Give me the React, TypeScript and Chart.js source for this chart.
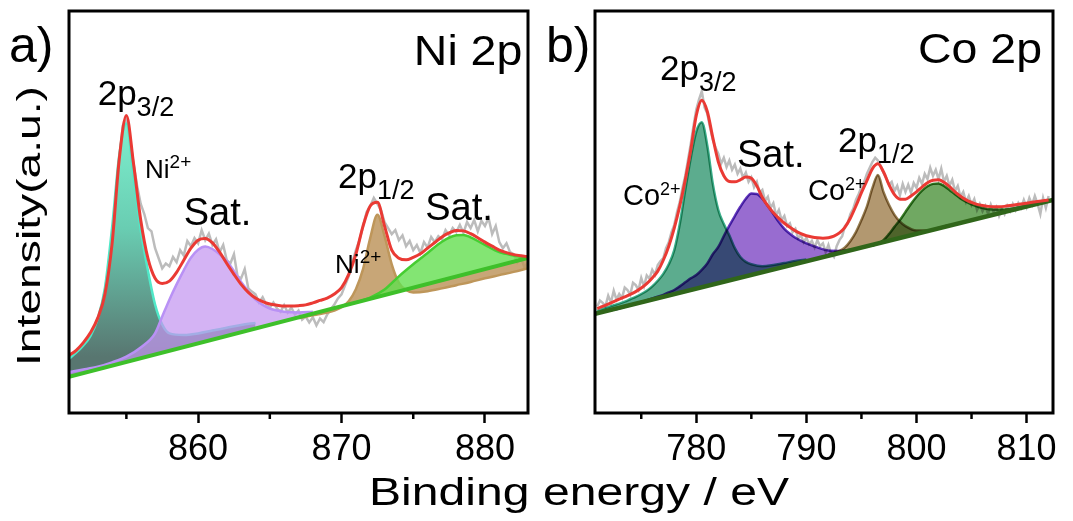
import React, { useEffect, useRef } from 'react';
import { Chart, registerables } from 'chart.js';

Chart.register(...registerables);

const W = 1073;
const H = 521;
const FONT = '"Liberation Sans", Arial, Helvetica, sans-serif';

// ---------------- Panel a: Ni 2p ----------------
const NI_RANGE = [851, 883];
const NI_MAJOR_TICKS = [860, 870, 880];
const NI_MINOR_TICKS = [855, 865, 875];

// measured spectrum (0.25 eV steps from 851 eV)
const NI_RAW_START = 851;
const NI_RAW = [
  13.5, 12.0, 14.8, 13.6, 16.5, 15.2, 18.8, 20.5,
  22.0, 26.0, 30.5, 36.0, 43.0, 53.0, 63.0, 71.5,
  73.0, 68.0, 62.0, 56.5, 52.0, 49.5, 46.0, 45.2,
  41.0, 38.5, 36.0, 37.2, 36.5, 38.8, 37.5, 40.5,
  39.2, 42.8, 41.5, 43.5, 42.2, 45.5, 43.0, 44.6,
  41.8, 43.2, 40.0, 41.8, 38.0, 37.2, 39.5, 34.0,
  33.5, 35.8, 31.0, 30.2, 29.5, 27.5, 28.8, 27.0,
  26.2, 27.5, 26.0, 25.2, 26.8, 25.0, 26.2, 24.5,
  25.5, 23.2, 24.0, 22.5, 23.8, 21.8, 23.5, 22.6,
  24.5, 25.8, 27.0, 28.5, 29.5, 31.8, 34.0, 37.5,
  40.5, 43.0, 46.5, 50.0, 51.5, 53.5, 52.0, 50.5,
  47.5, 46.0, 44.5, 45.5, 43.0, 44.2, 41.5, 42.8,
  40.5, 41.8, 39.8, 42.5, 41.2, 43.8, 42.5, 44.0,
  43.2, 45.5, 44.2, 46.0, 45.0, 46.8, 44.8, 47.5,
  46.0, 48.0, 45.2, 47.8, 46.5, 48.5, 44.5, 46.5,
  42.5, 41.0, 42.2, 40.0, 39.5, 37.5, 38.8, 36.2,
  37.5,
];

// fitted envelope (0.5 eV steps from 851 eV)
const NI_ENV_START = 851;
const NI_ENV = [
  14.3, 15.6, 17.5, 20.0, 23.6, 29.5, 42.0, 63.0, 74.0, 62.0,
  48.0, 38.5, 33.5, 32.2, 32.8, 35.0, 38.0, 41.0, 43.0, 43.4,
  42.3, 40.0, 37.2, 34.5, 32.0, 30.0, 28.6, 27.7, 27.1, 26.8,
  26.6, 26.6, 26.7, 26.9, 27.4, 28.0, 28.6, 29.6, 31.2, 34.5,
  39.5, 46.5, 51.5, 52.4, 46.5, 40.5, 38.5, 38.1, 38.7, 39.6,
  41.0, 42.4, 43.8, 44.8, 45.4, 45.3, 44.6, 43.6, 42.5, 41.5,
  40.5, 39.9, 39.4, 39.1, 38.9,
];

const NI_BASE_E = [851, 883];
const NI_BASE = [9.0, 38.6];

const NI_P32_E = [851, 851.5, 852, 852.5, 853, 853.5, 854, 854.5, 855, 855.5, 856, 856.5, 857, 857.5, 858, 859, 860, 861, 862, 863, 864];
const NI_P32 = [13.5, 15.0, 16.8, 19.2, 23.5, 31.0, 46.0, 64.0, 72.0, 59.0, 45.5, 35.5, 27.0, 22.0, 19.8, 19.4, 19.8, 20.5, 21.2, 21.9, 22.4];

const NI_SAT1_E = [851, 852, 853, 854, 855, 856, 857, 857.5, 858, 858.5, 859, 859.5, 860, 860.5, 861, 861.5, 862, 862.5, 863, 863.5, 864, 864.5, 865, 866, 867, 868];
const NI_SAT1 = [10.2, 10.8, 11.5, 12.6, 14.0, 16.3, 19.8, 24.0, 28.2, 32.0, 35.5, 38.6, 40.6, 41.4, 40.8, 39.5, 37.8, 35.3, 32.6, 30.3, 28.2, 26.9, 26.0, 25.2, 25.0, 25.2];

const NI_P12_E = [867, 868, 868.5, 869, 869.5, 870, 870.5, 871, 871.5, 872, 872.5, 873, 873.5, 874, 874.5, 875, 876, 877, 878, 879, 880, 881, 882, 883];
const NI_P12 = [23.6, 24.3, 24.6, 25.0, 25.5, 26.3, 27.8, 30.8, 35.8, 43.5, 49.3, 44.0, 37.0, 32.4, 30.6, 30.0, 30.3, 31.0, 31.8, 32.6, 33.5, 34.3, 35.1, 36.0];

const NI_SAT2_E = [871, 872, 873, 874, 875, 876, 877, 878, 878.5, 879, 880, 881, 882, 883];
const NI_SAT2 = [27.5, 28.7, 30.7, 34.0, 37.0, 39.8, 42.6, 44.2, 44.3, 43.7, 41.8, 40.0, 39.2, 38.7];

// ---------------- Panel b: Co 2p ----------------
const CO_RANGE = [770.8, 812.4];
const CO_MAJOR_TICKS = [780, 790, 800, 810];
const CO_MINOR_TICKS = [775, 785, 795, 805];

// measured spectrum (0.25 eV steps from 771 eV)
const CO_RAW_START = 771;
const CO_RAW = [
  26.5, 28.0, 27.4, 26.6, 29.2, 27.5, 30.4, 28.2,
  29.6, 28.6, 31.2, 30.6, 29.4, 32.4, 31.8, 30.6,
  33.6, 31.5, 34.2, 33.4, 35.6, 34.4, 36.8, 37.8,
  38.5, 41.0, 42.5, 45.0, 46.8, 50.0, 52.5, 56.0,
  59.0, 63.0, 67.0, 71.5, 75.5, 78.0, 80.0, 76.0,
  74.5, 71.0, 68.0, 66.0, 64.5, 62.0, 63.5, 61.2,
  62.8, 60.5, 61.8, 59.5, 60.8, 58.5, 59.8, 57.5,
  58.6, 56.2, 57.5, 54.8, 55.5, 52.8, 53.8, 51.0,
  52.2, 49.2, 50.5, 48.0, 49.0, 46.5, 47.2, 45.0,
  45.8, 43.5, 44.2, 42.5, 43.6, 42.0, 42.8, 41.2,
  43.0, 41.5, 42.2, 40.0, 41.8, 39.5, 38.8, 41.5,
  43.0, 44.0, 46.5, 47.2, 49.5, 50.8, 53.0, 54.5,
  56.2, 57.5, 59.5, 61.0, 62.5, 63.5, 62.8, 61.5,
  59.8, 58.5, 56.8, 57.5, 55.2, 56.5, 54.2, 57.0,
  55.0, 56.8, 54.8, 57.2, 56.0, 58.5, 57.0, 59.5,
  58.2, 61.0, 59.0, 60.5, 58.2, 60.8, 57.5, 59.0,
  56.5, 58.0, 55.2, 56.5, 53.8, 55.0, 52.5, 54.0,
  51.8, 53.2, 50.5, 52.0, 50.2, 51.5, 49.5, 51.8,
  50.0, 51.2, 49.0, 50.8, 49.5, 51.5, 50.2, 52.0,
  50.5, 52.2, 51.0, 53.0, 51.2, 53.5, 51.8, 54.0,
  52.0, 49.5, 53.5, 51.0, 54.0,
];

// fitted envelope (0.5 eV steps from 771 eV)
const CO_ENV_START = 771;
const CO_ENV = [
  26.0, 26.5, 27.1, 27.7, 28.3, 28.9, 29.5, 30.2, 31.1, 32.2,
  33.6, 35.3, 38.0, 41.5, 46.0, 51.5, 58.0, 65.5, 74.0, 77.8,
  75.0, 68.5, 62.5, 59.0, 57.6, 57.5, 58.0, 58.7, 58.4, 56.5,
  53.6, 51.5, 49.8, 48.4, 47.2, 46.2, 45.3, 44.6, 44.1, 43.8,
  43.6, 43.5, 43.6, 44.0, 44.8, 46.2, 48.5, 51.5, 54.8, 57.8,
  60.8, 62.0, 60.0, 56.8, 54.3, 53.2, 53.2, 54.0, 55.0, 56.2,
  57.3, 57.9, 58.0, 57.4, 56.3, 55.0, 53.9, 53.0, 52.4, 51.9,
  51.6, 51.4, 51.3, 51.3, 51.4, 51.6, 51.8, 52.0, 52.2, 52.4,
  52.6, 52.8, 53.0,
];

const CO_BASE_E = [770.8, 812.4];
const CO_BASE = [24.7, 53.0];

const CO_P32_E = [771, 771.5, 772, 772.5, 773, 773.5, 774, 774.5, 775, 775.5, 776, 776.5, 777, 777.5, 778, 778.5, 779, 779.5, 780, 780.5, 781, 781.5, 782, 782.5, 783, 783.5, 784, 784.5, 785, 786, 787, 788, 789, 790];
const CO_P32 = [25.4, 25.9, 26.3, 26.8, 27.2, 27.7, 28.3, 28.9, 29.6, 30.4, 31.5, 32.9, 34.6, 37.0, 40.5, 47.0, 55.5, 63.5, 70.0, 72.3, 66.5, 57.0, 50.5, 47.0, 44.2, 41.0, 38.8, 37.6, 37.0, 36.5, 36.8, 37.3, 37.8, 38.2];

const CO_SAT1_E = [771, 772, 773, 774, 775, 776, 777, 777.5, 778, 778.5, 779, 779.5, 780, 780.5, 781, 781.5, 782, 782.5, 783, 783.5, 784, 784.5, 785, 785.5, 786, 786.5, 787, 787.5, 788, 788.5, 789, 790, 791, 792, 793, 794];
const CO_SAT1 = [24.8, 25.4, 26.0, 26.8, 27.6, 28.5, 29.4, 30.0, 30.6, 31.5, 32.5, 33.5, 34.3, 35.6, 37.2, 39.5, 41.3, 44.0, 46.6, 49.0, 51.3, 53.3, 54.6, 54.5, 53.3, 51.5, 49.5, 47.5, 45.8, 44.6, 43.6, 42.2, 41.2, 40.4, 40.3, 40.6];

const CO_P12_E = [792, 793, 793.5, 794, 794.5, 795, 795.5, 796, 796.5, 797, 797.5, 798, 798.5, 799, 800, 801, 802, 803];
const CO_P12 = [39.4, 40.3, 41.2, 42.8, 45.0, 48.0, 51.4, 56.0, 59.2, 55.0, 51.8, 49.3, 47.6, 46.5, 45.4, 45.4, 46.0, 46.8];

const CO_SAT2_E = [796, 797, 797.5, 798, 798.5, 799, 799.5, 800, 800.5, 801, 801.5, 802, 802.5, 803, 803.5, 804, 804.5, 805, 806, 807, 808, 809, 810, 811, 812];
const CO_SAT2 = [41.6, 43.0, 44.5, 46.3, 48.0, 50.0, 52.0, 53.8, 55.3, 56.4, 57.0, 57.1, 56.5, 55.5, 54.4, 53.4, 52.6, 51.9, 51.0, 50.6, 50.6, 51.0, 51.6, 52.2, 52.8];

// ---------------- helpers ----------------
const RAW_STEP = 0.25;
const ENV_STEP = 0.5;
const energyAxis = (start: number, step: number, n: number) =>
  Array.from({ length: n }, (_, i) => Math.round((start + i * step) * 100) / 100);
const pts = (xs: number[], ys: number[]) => ys.map((y, i) => ({ x: xs[i], y }));

type Part = { t: string; size: number; dy: number };
type Label = { parts: Part[]; x: number; y: number; align?: 'left' | 'right' | 'center'; sx?: number };

function drawParts(ctx: CanvasRenderingContext2D, parts: Part[], x: number, y: number, align: string = 'left', sx = 1) {
  ctx.save();
  ctx.fillStyle = '#000';
  ctx.textBaseline = 'alphabetic';
  ctx.textAlign = 'left';
  const widths = parts.map((p) => {
    ctx.font = `${p.size}px ${FONT}`;
    return ctx.measureText(p.t).width * sx;
  });
  const total = widths.reduce((a, b) => a + b, 0);
  let cx = align === 'right' ? x - total : align === 'center' ? x - total / 2 : x;
  parts.forEach((p, i) => {
    ctx.font = `${p.size}px ${FONT}`;
    ctx.save();
    ctx.translate(cx, y + p.dy);
    ctx.scale(sx, 1);
    ctx.fillText(p.t, 0, 0);
    ctx.restore();
    cx += widths[i];
  });
  ctx.restore();
}

function drawStretched(ctx: CanvasRenderingContext2D, text: string, size: number, cx: number, cy: number, length: number, rotate: boolean) {
  ctx.save();
  ctx.fillStyle = '#000';
  ctx.font = `${size}px ${FONT}`;
  ctx.textAlign = 'center';
  ctx.textBaseline = 'alphabetic';
  const w = ctx.measureText(text).width;
  ctx.translate(cx, cy);
  if (rotate) ctx.rotate(-Math.PI / 2);
  ctx.scale(length / w, 1);
  ctx.fillText(text, 0, 0);
  ctx.restore();
}

const SUB = 11;
const SUP = -10;

const NI_LABELS: Label[] = [
  { parts: [{ t: 'Ni 2p', size: 43, dy: 0 }], x: 882.6, y: 86.6, align: 'right', sx: 1.08 },
  { parts: [{ t: '2p', size: 35, dy: 0 }, { t: '3/2', size: 27, dy: SUB }], x: 853.0, y: 76.6 },
  { parts: [{ t: 'Ni', size: 26, dy: 0 }, { t: '2+', size: 19, dy: SUP }], x: 856.3, y: 58.5 },
  { parts: [{ t: 'Sat.', size: 38, dy: 0 }], x: 859.0, y: 46.8 },
  { parts: [{ t: '2p', size: 35, dy: 0 }, { t: '1/2', size: 27, dy: SUB }], x: 869.76, y: 56.0 },
  { parts: [{ t: 'Sat.', size: 38, dy: 0 }], x: 875.83, y: 48.0 },
  { parts: [{ t: 'Ni', size: 26, dy: 0 }, { t: '2+', size: 19, dy: SUP }], x: 869.55, y: 34.8 },
];

const CO_LABELS: Label[] = [
  { parts: [{ t: 'Co 2p', size: 43, dy: 0 }], x: 811.4, y: 87.1, align: 'right', sx: 1.08 },
  { parts: [{ t: '2p', size: 35, dy: 0 }, { t: '3/2', size: 27, dy: SUB }], x: 776.7, y: 82.8 },
  { parts: [{ t: 'Sat.', size: 38, dy: 0 }], x: 783.7, y: 61.2 },
  { parts: [{ t: '2p', size: 35, dy: 0 }, { t: '1/2', size: 27, dy: SUB }], x: 792.87, y: 64.9 },
  { parts: [{ t: 'Co', size: 29, dy: 0 }, { t: '2+', size: 18, dy: SUP }], x: 773.34, y: 51.7 },
  { parts: [{ t: 'Co', size: 29, dy: 0 }, { t: '2+', size: 18, dy: SUP }], x: 790.15, y: 53.0 },
];

const RED = 'rgb(234,58,52)';
const GRAY = 'rgb(188,188,188)';

const line = (data: any[], color: string, width: number, extra: any = {}) => ({
  data,
  borderColor: color,
  borderWidth: width,
  pointRadius: 0,
  fill: false,
  cubicInterpolationMode: 'monotone',
  ...extra,
});

function niDatasets() {
  const tealGrad = (c: any) => {
    const ch = c.chart;
    const ys = ch.scales && ch.scales.y;
    if (!ys || !ch.chartArea) return 'rgb(100,200,175)';
    const g = ch.ctx.createLinearGradient(0, ys.getPixelForValue(72), 0, ys.getPixelForValue(14));
    g.addColorStop(0, 'rgb(125,238,205)');
    g.addColorStop(0.45, 'rgb(105,205,178)');
    g.addColorStop(1, 'rgb(88,118,112)');
    return g;
  };
  return [
    line(pts(energyAxis(NI_ENV_START, ENV_STEP, NI_ENV.length), NI_ENV), RED, 3),
    line(pts(NI_BASE_E, NI_BASE), 'rgb(62,192,42)', 4, { cubicInterpolationMode: 'default', tension: 0 }),
    line(pts(NI_SAT2_E, NI_SAT2), 'rgb(70,205,50)', 2.5, { fill: 1, backgroundColor: 'rgba(100,222,80,0.8)' }),
    line(pts(NI_P12_E, NI_P12), 'rgb(190,150,90)', 2.5, { fill: 1, backgroundColor: 'rgba(190,150,95,0.85)' }),
    line(pts(NI_SAT1_E, NI_SAT1), 'rgb(185,145,245)', 2.5, { fill: 1, backgroundColor: 'rgba(195,150,240,0.72)' }),
    line(pts(NI_P32_E, NI_P32), 'rgb(80,232,200)', 2.5, { fill: 1, backgroundColor: tealGrad }),
    line(pts(energyAxis(NI_RAW_START, RAW_STEP, NI_RAW.length), NI_RAW), GRAY, 2.5, { cubicInterpolationMode: 'default', tension: 0 }),
  ];
}

function coDatasets() {
  return [
    line(pts(energyAxis(CO_ENV_START, ENV_STEP, CO_ENV.length), CO_ENV), RED, 3),
    line(pts(CO_BASE_E, CO_BASE), 'rgb(48,102,26)', 4.5, { cubicInterpolationMode: 'default', tension: 0 }),
    line(pts(CO_SAT2_E, CO_SAT2), 'rgb(60,130,40)', 2.5, { fill: 1, backgroundColor: 'rgb(112,168,98)' }),
    line(pts(CO_P12_E, CO_P12), 'rgb(150,125,80)', 2.5, { fill: 1, backgroundColor: 'rgb(178,152,112)' }),
    line(pts(CO_SAT1_E, CO_SAT1), 'rgb(100,55,190)', 2.5, { fill: 1, backgroundColor: 'rgb(152,108,208)' }),
    line(pts(CO_P32_E, CO_P32), 'rgb(60,175,140)', 2.5, { fill: 1, backgroundColor: 'rgb(92,172,142)' }),
    line(pts(energyAxis(CO_RAW_START, RAW_STEP, CO_RAW.length), CO_RAW), GRAY, 2.5, { cubicInterpolationMode: 'default', tension: 0 }),
  ];
}

type Panel = {
  range: number[];
  major: number[];
  minor: number[];
  padding: { left: number; right: number; top: number; bottom: number };
  datasets: () => any[];
  labels: Label[];
  global: boolean;
  blend: string;
};

const PANEL_A: Panel = {
  range: NI_RANGE,
  major: NI_MAJOR_TICKS,
  minor: NI_MINOR_TICKS,
  padding: { left: 69, right: W - 528, top: 11, bottom: 48 },
  datasets: niDatasets,
  labels: NI_LABELS,
  global: true,
  blend: 'source-over',
};

const PANEL_B: Panel = {
  range: CO_RANGE,
  major: CO_MAJOR_TICKS,
  minor: CO_MINOR_TICKS,
  padding: { left: 595, right: W - 1053, top: 11, bottom: 48 },
  datasets: coDatasets,
  labels: CO_LABELS,
  global: false,
  blend: 'multiply',
};

function makeChart(canvas: HTMLCanvasElement, p: Panel) {
  const deco = {
    id: 'deco' + (p.global ? 'A' : 'B'),
    beforeDatasetsDraw(chart: any) {
      chart.ctx.save();
      chart.ctx.globalCompositeOperation = p.blend;
    },
    beforeDatasetDraw(chart: any, args: any) {
      if (args.index <= 1) chart.ctx.globalCompositeOperation = 'source-over';
    },
    afterDatasetsDraw(chart: any) {
      chart.ctx.restore();
    },
    afterDraw(chart: any) {
      const { ctx, chartArea: a } = chart;
      const xs = chart.scales.x;
      const ys = chart.scales.y;
      ctx.save();
      ctx.strokeStyle = '#000';
      ctx.lineWidth = 3;
      ctx.strokeRect(a.left, a.top, a.right - a.left, a.bottom - a.top);
      ctx.lineWidth = 2.5;
      for (const v of p.minor) {
        const px = xs.getPixelForValue(v);
        ctx.beginPath();
        ctx.moveTo(px, a.bottom);
        ctx.lineTo(px, a.bottom + 6);
        ctx.stroke();
      }
      ctx.restore();
      for (const l of p.labels) {
        drawParts(ctx, l.parts, xs.getPixelForValue(l.x), ys.getPixelForValue(l.y), l.align || 'left', l.sx || 1);
      }
      if (p.global) {
        drawParts(ctx, [{ t: 'a)', size: 50, dy: 0 }], 9, 62);
        drawParts(ctx, [{ t: 'b)', size: 50, dy: 0 }], 546, 62);
        drawStretched(ctx, 'Binding energy / eV', 39, 579, 505, 420, false);
        drawStretched(ctx, 'Intensity(a.u.)', 34, 40, 226, 280, true);
      }
    },
  };

  return new Chart(canvas, {
    type: 'line',
    data: { datasets: p.datasets() },
    options: {
      responsive: false,
      animation: false,
      devicePixelRatio: 1,
      events: [],
      layout: { padding: p.padding },
      elements: { point: { radius: 0 } },
      plugins: {
        legend: { display: false },
        tooltip: { enabled: false },
        title: { display: false },
      },
      scales: {
        x: {
          type: 'linear',
          min: p.range[0],
          max: p.range[1],
          afterBuildTicks: (s: any) => {
            s.ticks = p.major.map((v) => ({ value: v }));
          },
          afterFit: (s: any) => {
            s.height = 60;
          },
          ticks: {
            autoSkip: false,
            maxRotation: 0,
            padding: 5,
            color: '#000',
            font: { family: FONT, size: 36 },
            callback: (v: any) => String(v),
          },
          grid: {
            drawOnChartArea: false,
            drawTicks: true,
            tickLength: 10,
            tickWidth: 2.5,
            tickColor: '#000',
          },
          border: { display: false },
        },
        y: { display: false, min: 0, max: 100 },
      },
    } as any,
    plugins: [deco],
  } as any);
}

export default function App() {
  const refA = useRef<HTMLCanvasElement>(null);
  const refB = useRef<HTMLCanvasElement>(null);
  useEffect(() => {
    const a = makeChart(refA.current as HTMLCanvasElement, PANEL_A);
    const b = makeChart(refB.current as HTMLCanvasElement, PANEL_B);
    return () => {
      a.destroy();
      b.destroy();
    };
  }, []);
  return (
    <div style={{ position: 'absolute', left: 0, top: 0, width: W, height: H, background: '#fff', overflow: 'hidden' }}>
      <canvas ref={refA} width={W} height={H} style={{ position: 'absolute', left: 0, top: 0 }} />
      <canvas ref={refB} width={W} height={H} style={{ position: 'absolute', left: 0, top: 0 }} />
    </div>
  );
}
